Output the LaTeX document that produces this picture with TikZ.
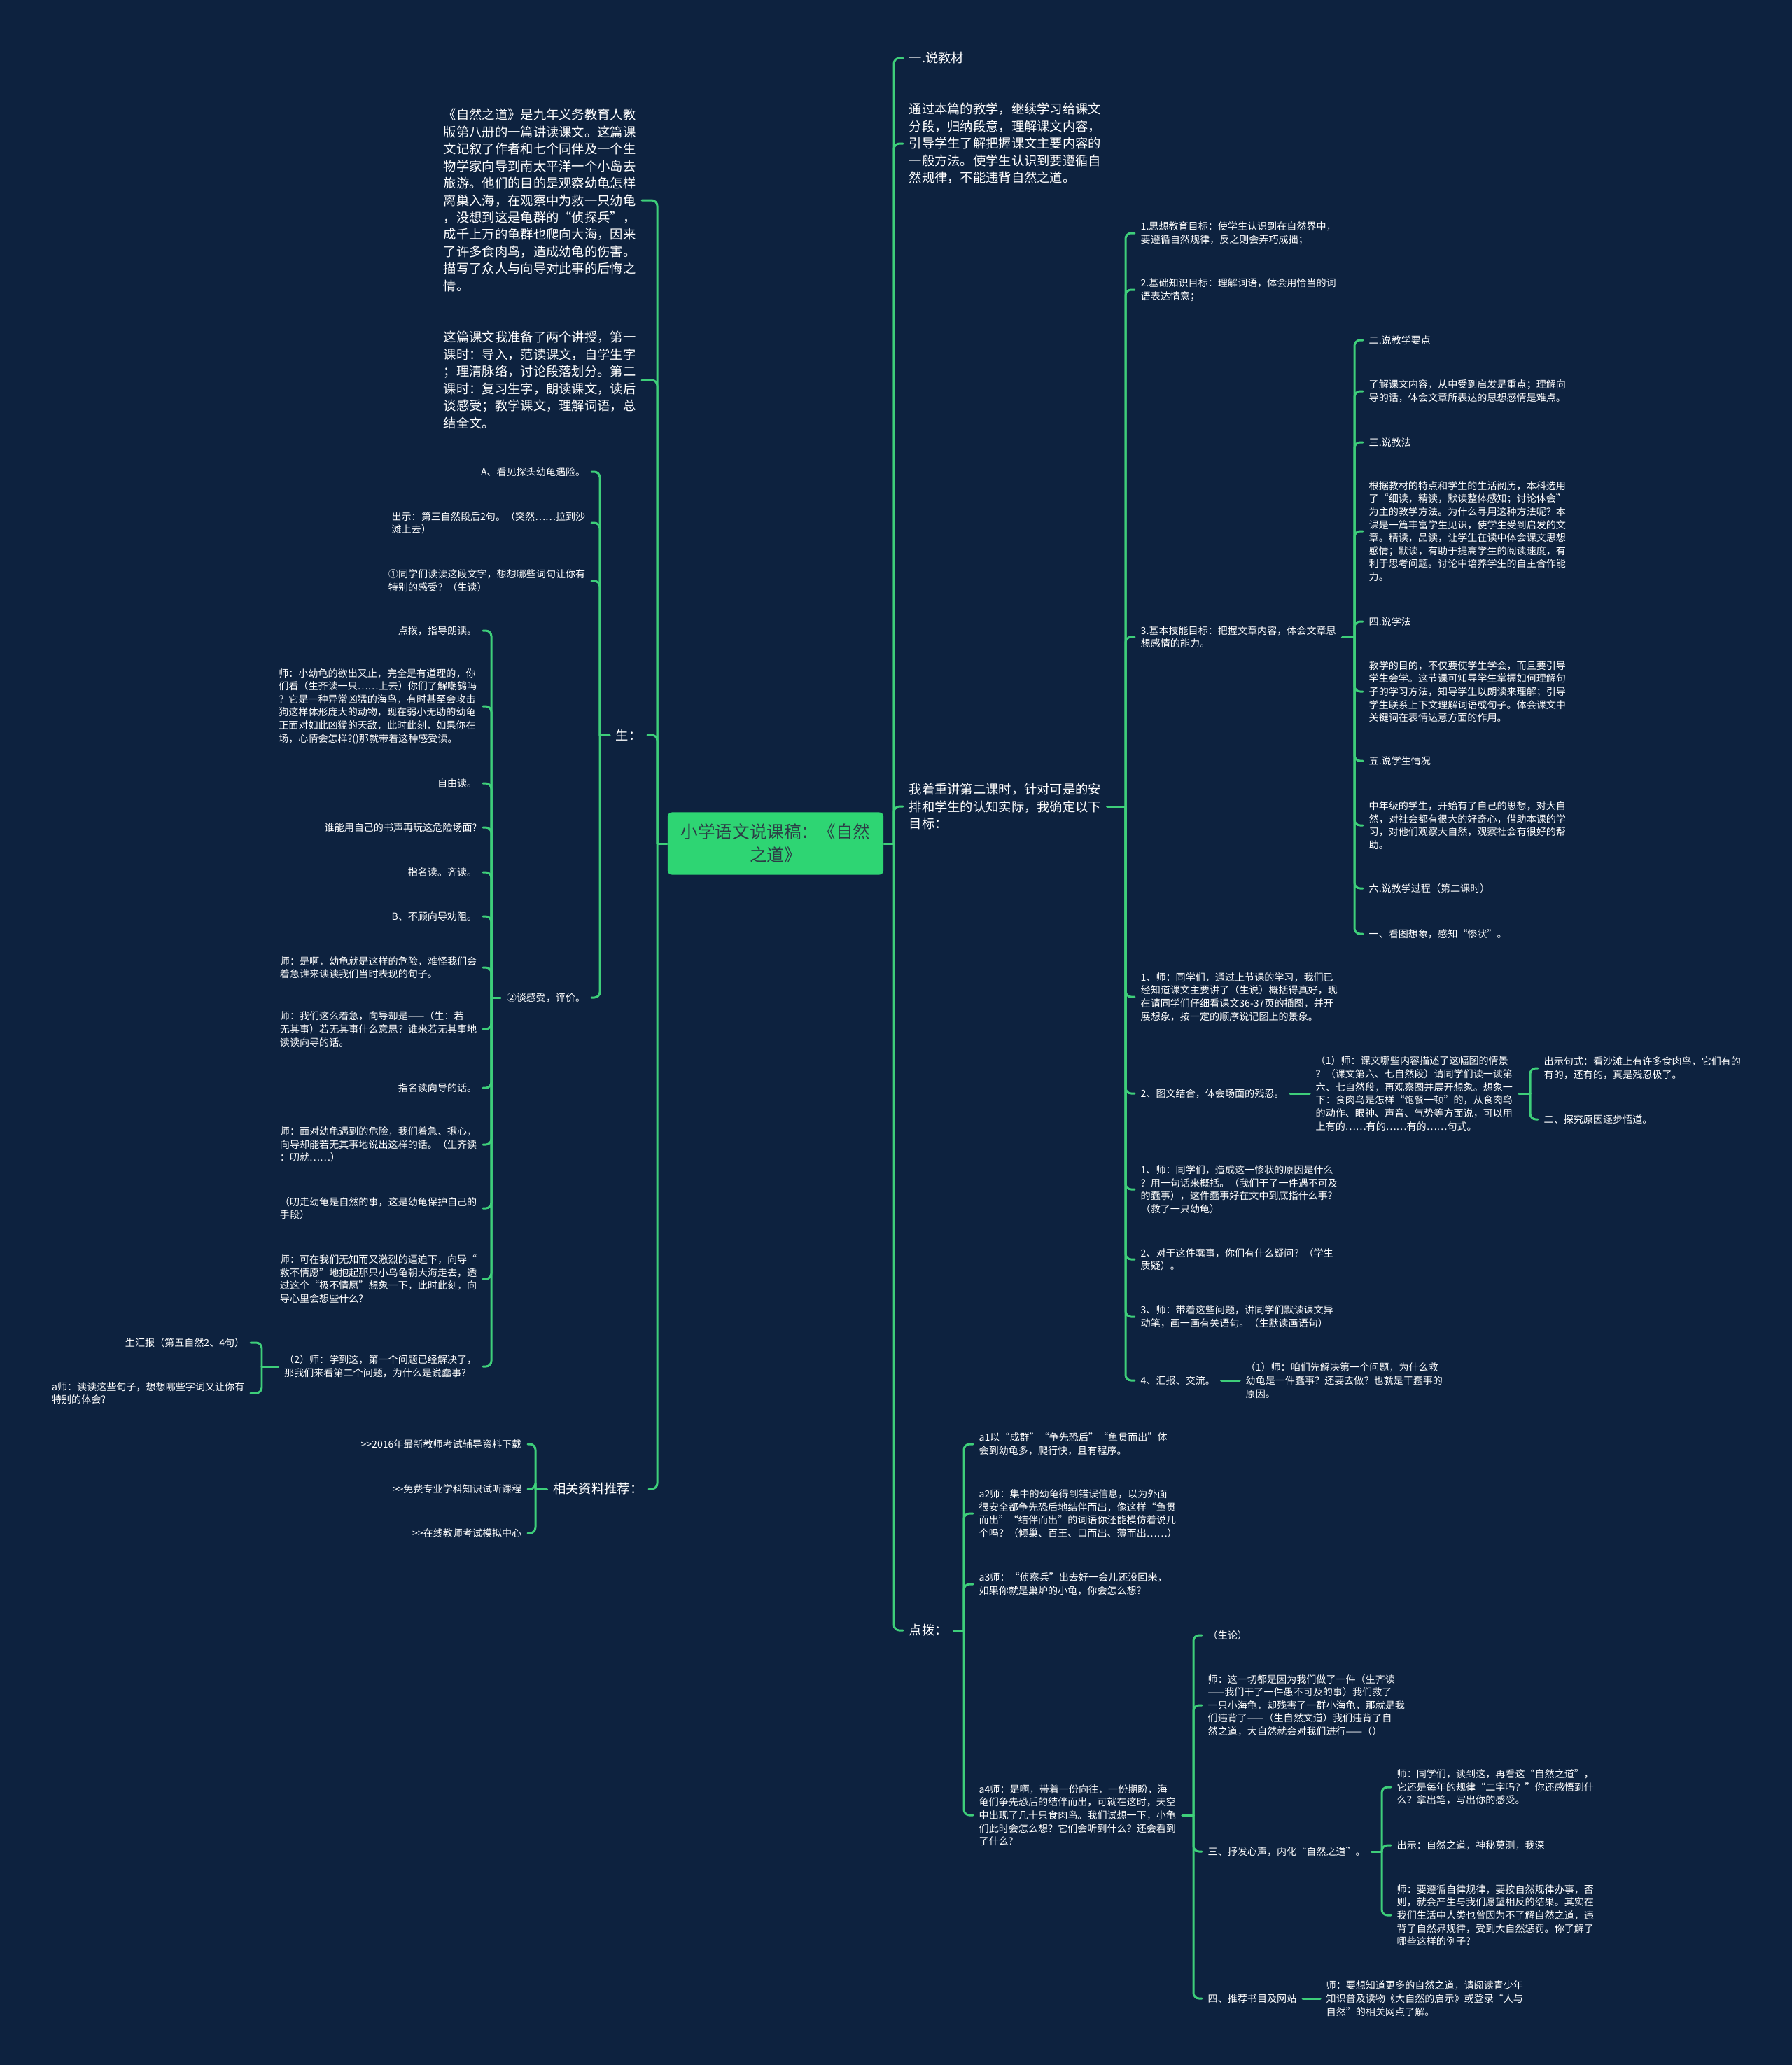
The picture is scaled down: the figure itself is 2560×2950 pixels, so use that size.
\documentclass[tikz,border=0pt]{standalone}
\usepackage{fontspec}
\setmainfont{Noto Sans CJK SC}
\definecolor{bgnavy}{RGB}{13,34,63}
\definecolor{linkgreen}{RGB}{62,206,122}
\definecolor{titlegreen}{RGB}{46,213,115}
\definecolor{titletext}{RGB}{44,62,70}

\begin{document}
\begin{tikzpicture}[x=0.01cm, y=-0.01cm,
	txt/.style={text=white, font=\fontsize{4}{5.3}\selectfont, align=left, inner xsep=0.08cm, inner ysep=0.02cm},
	bigtxt/.style={txt, font=\fontsize{5.2}{6.95}\selectfont},
	title/.style={fill=titlegreen, rounded corners=0.06cm, minimum width=3.08cm, minimum height=0.89cm, align=center, text=titletext, font=\fontsize{7}{9.4}\selectfont},
	link/.style={draw=linkgreen, line width=0.85pt, rounded corners=0.08cm, line cap=round}]

	\fill[bgnavy] (0,0) rectangle (2560,2950);
	\useasboundingbox (0,0) rectangle (2560,2950);

	\node[title] (main) at (1108,1205) {小学语文说课稿：《自然\\之道》};

	% left half
	\node[bigtxt, anchor=east] (lp1) at (917,286) {《自然之道》是九年义务教育人教\\版第八册的一篇讲读课文。这篇课\\文记叙了作者和七个同伴及一个生\\物学家向导到南太平洋一个小岛去\\旅游。他们的目的是观察幼龟怎样\\离巢入海，在观察中为救一只幼龟\\，没想到这是龟群的“侦探兵”，\\成千上万的龟群也爬向大海，因来\\了许多食肉鸟，造成幼龟的伤害。\\描写了众人与向导对此事的后悔之\\情。};
	\node[bigtxt, anchor=east] (lp2) at (917,543) {这篇课文我准备了两个讲授，第一\\课时：导入，范读课文，自学生字\\；理清脉络，讨论段落划分。第二\\课时：复习生字，朗读课文，读后\\谈感受；教学课文，理解词语，总\\结全文。};
	\node[bigtxt, anchor=east] (ls) at (925,1050) {生：};
	\node[bigtxt, anchor=east] (lr) at (927,2127) {相关资料推荐：};

	\node[txt, anchor=east] (s1) at (845,674) {A、看见探头幼龟遇险。};
	\node[txt, anchor=east] (s2) at (845,747) {出示：第三自然段后2句。（突然……拉到沙\\滩上去）};
	\node[txt, anchor=east] (s3) at (845,830) {①同学们读读这段文字，想想哪些词句让你有\\特别的感受？（生读）};
	\node[txt, anchor=east] (s4) at (845,1425) {②谈感受，评价。};

	\node[txt, anchor=east] (t1) at (690,901) {点拨，指导朗读。};
	\node[txt, anchor=east] (t2) at (690,1009) {师：小幼龟的欲出又止，完全是有道理的，你\\们看（生齐读一只……上去）你们了解嘲鸫吗\\？它是一种异常凶猛的海鸟，有时甚至会攻击\\狗这样体形庞大的动物，现在弱小无助的幼龟\\正面对如此凶猛的天敌，此时此刻，如果你在\\场，心情会怎样?()那就带着这种感受读。};
	\node[txt, anchor=east] (t3) at (690,1119) {自由读。};
	\node[txt, anchor=east] (t4) at (690,1182) {谁能用自己的书声再玩这危险场面?};
	\node[txt, anchor=east] (t5) at (690,1246) {指名读。齐读。};
	\node[txt, anchor=east] (t6) at (690,1309) {B、不顾向导劝阻。};
	\node[txt, anchor=east] (t7) at (690,1382) {师：是啊，幼龟就是这样的危险，难怪我们会\\着急谁来读读我们当时表现的句子。};
	\node[txt, anchor=east] (t8) at (690,1470) {师：我们这么着急，向导却是——（生：若\\无其事）若无其事什么意思？谁来若无其事地\\读读向导的话。};
	\node[txt, anchor=east] (t9) at (690,1554) {指名读向导的话。};
	\node[txt, anchor=east] (t10) at (690,1635) {师：面对幼龟遇到的危险，我们着急、揪心，\\向导却能若无其事地说出这样的话。（生齐读\\：叨就……）};
	\node[txt, anchor=east] (t11) at (690,1726) {（叨走幼龟是自然的事，这是幼龟保护自己的\\手段）};
	\node[txt, anchor=east] (t12) at (690,1827) {师：可在我们无知而又激烈的逼迫下，向导“\\救不情愿”地抱起那只小乌龟朝大海走去，透\\过这个“极不情愿”想象一下，此时此刻，向\\导心里会想些什么?};
	\node[txt, anchor=east] (t13) at (690,1952) {（2）师：学到这，第一个问题已经解决了，\\那我们来看第二个问题，为什么是说蠢事?};

	\node[txt, anchor=east] (u1) at (358,1918) {生汇报（第五自然2、4句）};
	\node[txt, anchor=east] (u2) at (358,1990) {a师：读读这些句子，想想哪些字词又让你有\\特别的体会?};

	\node[txt, anchor=east] (k1) at (754,2063) {>{}>2016年最新教师考试辅导资料下载};
	\node[txt, anchor=east] (k2) at (754,2127) {>{}>免费专业学科知识试听课程};
	\node[txt, anchor=east] (k3) at (754,2190) {>{}>在线教师考试模拟中心};

	% right half
	\node[bigtxt, anchor=west] (r1) at (1290,83) {一.说教材};
	\node[bigtxt, anchor=west] (r2) at (1290,205) {通过本篇的教学，继续学习给课文\\分段，归纳段意，理解课文内容，\\引导学生了解把握课文主要内容的\\一般方法。使学生认识到要遵循自\\然规律，不能违背自然之道。};
	\node[bigtxt, anchor=west] (r3) at (1290,1152) {我着重讲第二课时，针对可是的安\\排和学生的认知实际，我确定以下\\目标：};
	\node[bigtxt, anchor=west] (r4) at (1290,2329) {点拨：};

	\node[txt, anchor=west] (g1) at (1621,333) {1.思想教育目标：使学生认识到在自然界中，\\要遵循自然规律，反之则会弄巧成拙；};
	\node[txt, anchor=west] (g2) at (1621,414) {2.基础知识目标：理解词语，体会用恰当的词\\语表达情意；};
	\node[txt, anchor=west] (g3) at (1621,910) {3.基本技能目标：把握文章内容，体会文章思\\想感情的能力。};
	\node[txt, anchor=west] (g4) at (1621,1424) {1、师：同学们，通过上节课的学习，我们已\\经知道课文主要讲了（生说）概括得真好，现\\在请同学们仔细看课文36-37页的插图，并开\\展想象，按一定的顺序说记图上的景象。};
	\node[txt, anchor=west] (g5) at (1621,1562) {2、图文结合，体会场面的残忍。};
	\node[txt, anchor=west] (g6) at (1621,1699) {1、师：同学们，造成这一惨状的原因是什么\\？用一句话来概括。（我们干了一件遇不可及\\的蠢事），这件蠢事好在文中到底指什么事?\\（救了一只幼龟）};
	\node[txt, anchor=west] (g7) at (1621,1799) {2、对于这件蠢事，你们有什么疑问？（学生\\质疑）。};
	\node[txt, anchor=west] (g8) at (1621,1881) {3、师：带着这些问题，讲同学们默读课文异\\动笔，画一画有关语句。（生默读画语句）};
	\node[txt, anchor=west] (g9) at (1621,1972) {4、汇报、交流。};

	\node[txt, anchor=west] (h1) at (1947,486) {二.说教学要点};
	\node[txt, anchor=west] (h2) at (1947,559) {了解课文内容，从中受到启发是重点；理解向\\导的话，体会文章所表达的思想感情是难点。};
	\node[txt, anchor=west] (h3) at (1947,632) {三.说教法};
	\node[txt, anchor=west] (h4) at (1947,759) {根据教材的特点和学生的生活阅历，本科选用\\了“细读，精读，默读整体感知；讨论体会”\\为主的教学方法。为什么寻用这种方法呢？本\\课是一篇丰富学生见识，使学生受到启发的文\\章。精读，品读，让学生在读中体会课文思想\\感情；默读，有助于提高学生的阅读速度，有\\利于思考问题。讨论中培养学生的自主合作能\\力。};
	\node[txt, anchor=west] (h5) at (1947,888) {四.说学法};
	\node[txt, anchor=west] (h6) at (1947,988) {教学的目的，不仅要使学生学会，而且要引导\\学生会学。这节课可知导学生掌握如何理解句\\子的学习方法，知导学生以朗读来理解；引导\\学生联系上下文理解词语或句子。体会课文中\\关键词在表情达意方面的作用。};
	\node[txt, anchor=west] (h7) at (1947,1087) {五.说学生情况};
	\node[txt, anchor=west] (h8) at (1947,1179) {中年级的学生，开始有了自己的思想，对大自\\然，对社会都有很大的好奇心，借助本课的学\\习，对他们观察大自然，观察社会有很好的帮\\助。};
	\node[txt, anchor=west] (h9) at (1947,1269) {六.说教学过程（第二课时）};
	\node[txt, anchor=west] (h10) at (1947,1334) {一、看图想象，感知“惨状”。};

	\node[txt, anchor=west] (c5) at (1871,1562) {（1）师：课文哪些内容描述了这幅图的情景\\？（课文第六、七自然段）请同学们读一读第\\六、七自然段，再观察图并展开想象。想象一\\下：食肉鸟是怎样“饱餐一顿”的，从食肉鸟\\的动作、眼神、声音、气势等方面说，可以用\\上有的……有的……有的……句式。};
	\node[txt, anchor=west] (d1) at (2197,1526) {出示句式：看沙滩上有许多食肉鸟，它们有的\\有的，还有的，真是残忍极了。};
	\node[txt, anchor=west] (d2) at (2197,1599) {二、探究原因逐步悟道。};
	\node[txt, anchor=west] (c9) at (1771,1972) {（1）师：咱们先解决第一个问题，为什么救\\幼龟是一件蠢事？还要去做？也就是干蠢事的\\原因。};

	\node[txt, anchor=west] (p1) at (1390,2063) {a1以“成群”“争先恐后”“鱼贯而出”体\\会到幼龟多，爬行快，且有程序。};
	\node[txt, anchor=west] (p2) at (1390,2162) {a2师：集中的幼龟得到错误信息，以为外面\\很安全都争先恐后地结伴而出，像这样“鱼贯\\而出”“结伴而出”的词语你还能模仿着说几\\个吗？（倾巢、百王、口而出、薄而出……）};
	\node[txt, anchor=west] (p3) at (1390,2263) {a3师：“侦察兵”出去好一会儿还没回来，\\如果你就是巢炉的小龟，你会怎么想?};
	\node[txt, anchor=west] (p4) at (1390,2593) {a4师：是啊，带着一份向往，一份期盼，海\\龟们争先恐后的结伴而出，可就在这时，天空\\中出现了几十只食肉鸟。我们试想一下，小龟\\们此时会怎么想？它们会听到什么？还会看到\\了什么?};

	\node[txt, anchor=west] (q1) at (1717,2336) {（生论）};
	\node[txt, anchor=west] (q2) at (1717,2436) {师：这一切都是因为我们做了一件（生齐读\\——我们干了一件愚不可及的事）我们救了\\一只小海龟，却残害了一群小海龟，那就是我\\们违背了——（生自然文道）我们违背了自\\然之道，大自然就会对我们进行——（）};
	\node[txt, anchor=west] (q3) at (1717,2645) {三、抒发心声，内化“自然之道”。};
	\node[txt, anchor=west] (q4) at (1717,2855) {四、推荐书目及网站};

	\node[txt, anchor=west] (w1) at (1987,2553) {师：同学们，读到这，再看这“自然之道”，\\它还是每年的规律“二字吗？”你还感悟到什\\么？拿出笔，写出你的感受。};
	\node[txt, anchor=west] (w2) at (1987,2636) {出示：自然之道，神秘莫测，我深};
	\node[txt, anchor=west] (w3) at (1987,2736) {师：要遵循自律规律，要按自然规律办事，否\\则，就会产生与我们愿望相反的结果。其实在\\我们生活中人类也曾因为不了解自然之道，违\\背了自然界规律，受到大自然惩罚。你了解了\\哪些这样的例子?};
	\node[txt, anchor=west] (q4c) at (1886,2855) {师：要想知道更多的自然之道，请阅读青少年\\知识普及读物《大自然的启示》或登录“人与\\自然”的相关网点了解。};

	% bars and hooks
	\coordinate (bl) at (939,1205);
	\coordinate (bs) at (857,1050);
	\coordinate (bt) at (702,1425);
	\coordinate (bu) at (374,1952);
	\coordinate (bk) at (765,2127);
	\coordinate (br) at (1277,1205);
	\coordinate (bg) at (1608,1152);
	\coordinate (bh) at (1935,910);
	\coordinate (bd) at (2186,1562);
	\coordinate (bp) at (1377,2329);
	\coordinate (bq) at (1705,2593);
	\coordinate (bw) at (1974,2645);

	\draw[link] (main.west) -- (bl);
	\foreach \n in {lp1,lp2,ls,lr} \draw[link] (bl) |- (\n.east);
	\draw[link] (ls.west) -- (bs);
	\foreach \n in {s1,s2,s3,s4} \draw[link] (bs) |- (\n.east);
	\draw[link] (s4.west) -- (bt);
	\foreach \n in {t1,t2,t3,t4,t5,t6,t7,t8,t9,t10,t11,t12,t13} \draw[link] (bt) |- (\n.east);
	\draw[link] (t13.west) -- (bu);
	\foreach \n in {u1,u2} \draw[link] (bu) |- (\n.east);
	\draw[link] (lr.west) -- (bk);
	\foreach \n in {k1,k2,k3} \draw[link] (bk) |- (\n.east);

	\draw[link] (main.east) -- (br);
	\foreach \n in {r1,r2,r3,r4} \draw[link] (br) |- (\n.west);
	\draw[link] (r3.east) -- (bg);
	\foreach \n in {g1,g2,g3,g4,g5,g6,g7,g8,g9} \draw[link] (bg) |- (\n.west);
	\draw[link] (g3.east) -- (bh);
	\foreach \n in {h1,h2,h3,h4,h5,h6,h7,h8,h9,h10} \draw[link] (bh) |- (\n.west);
	\draw[link] (g5.east) -- (c5.west);
	\draw[link] (c5.east) -- (bd);
	\foreach \n in {d1,d2} \draw[link] (bd) |- (\n.west);
	\draw[link] (g9.east) -- (c9.west);
	\draw[link] (r4.east) -- (bp);
	\foreach \n in {p1,p2,p3,p4} \draw[link] (bp) |- (\n.west);
	\draw[link] (p4.east) -- (bq);
	\foreach \n in {q1,q2,q3,q4} \draw[link] (bq) |- (\n.west);
	\draw[link] (q3.east) -- (bw);
	\foreach \n in {w1,w2,w3} \draw[link] (bw) |- (\n.west);
	\draw[link] (q4.east) -- (q4c.west);
\end{tikzpicture}
\end{document}
